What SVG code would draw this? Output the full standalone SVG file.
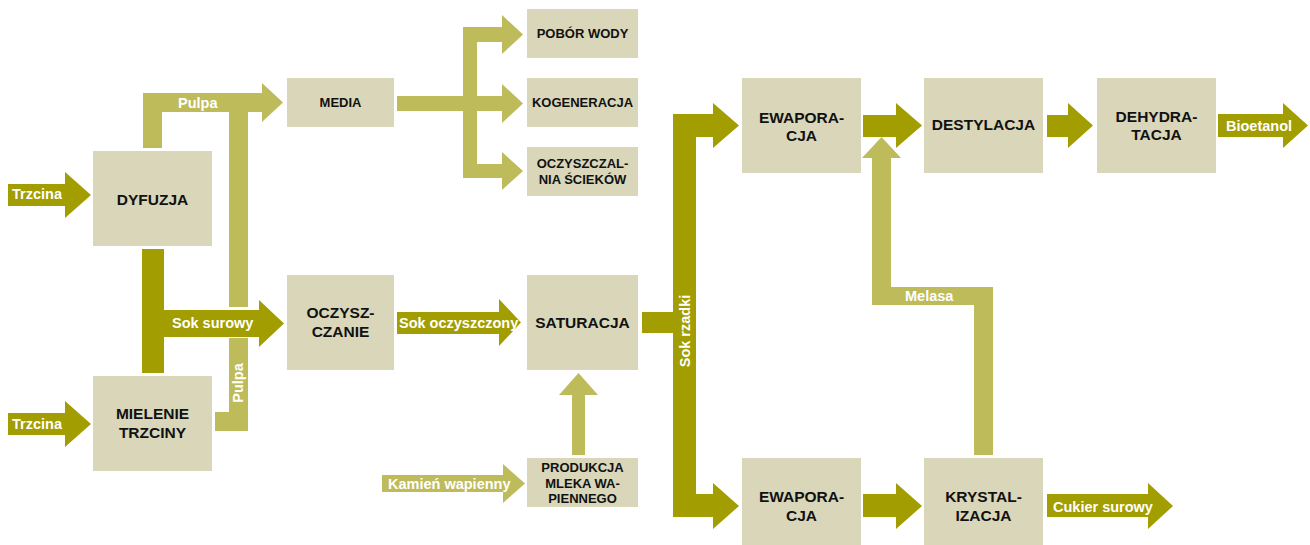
<svg xmlns="http://www.w3.org/2000/svg" width="1310" height="545" viewBox="0 0 1310 545">
<style>
.box{fill:#d9d6b9}
.dk{fill:#a29d00}
.lt{fill:#bebb5a}
.t{font-family:"Liberation Sans",Arial,sans-serif;font-weight:bold;fill:#111;text-anchor:middle}
.b{font-size:15.5px}
.s{font-size:13px}
.l{font-family:"Liberation Sans",Arial,sans-serif;font-weight:bold;font-size:14.5px;fill:#fff}
</style>
<rect width="1310" height="545" fill="#fff"/>
<g id="connectors">
<!-- light -->
<polygon class="lt" points="143,148 143,93 262,93 262,83 283,102.5 262,122 262,112 162,112 162,148"/>
<rect class="lt" x="229" y="112" width="19" height="195"/>
<rect class="lt" x="229" y="338" width="19" height="93"/>
<rect class="lt" x="215" y="412" width="33" height="19"/>
<rect class="lt" x="397" y="96" width="66" height="15"/>
<rect class="lt" x="463" y="27" width="14" height="151"/>
<polygon class="lt" points="477,27 502,27 502,15 523,34.5 502,54 502,42 477,42"/>
<polygon class="lt" points="477,96 502,96 502,84 523,103.5 502,123 502,111 477,111"/>
<polygon class="lt" points="477,164 502,164 502,152 523,171 502,190 502,178 477,178"/>
<polygon class="lt" points="572,455 572,395 559,395 578.5,373 598,395 585,395 585,455"/>
<polygon class="lt" points="382,475 503,475 503,464 525,483.5 503,503 503,492 382,492"/>
<polygon class="lt" points="881.5,137 901,158 891,158 891,287 993,287 993,455 974,455 974,305 872,305 872,158 862,158"/>
<!-- dark -->
<polygon class="dk" points="8,184 65,184 65,172 91,195 65,218 65,206 8,206"/>
<polygon class="dk" points="8,413 65,413 65,401 91,424 65,447 65,435 8,435"/>
<polygon class="dk" points="142,249 164,249 164,310 259,310 259,300 284,323.5 259,347 259,337 164,337 164,373 142,373"/>
<polygon class="dk" points="397,312 499,312 499,299 521,322.5 499,346 499,334 397,334"/>
<rect class="dk" x="642" y="312" width="31" height="21"/>
<polygon class="dk" points="673,114 713,114 713,103 739,125.5 713,148 713,137 696,137 696,494 713,494 713,483 739,506 713,529 713,517 673,517"/>
<polygon class="dk" points="863,115 896,115 896,103 922,125.5 896,148 896,137 863,137"/>
<polygon class="dk" points="863,494 896,494 896,483 922,506 896,529 896,517 863,517"/>
<polygon class="dk" points="1047,115 1068,115 1068,103 1093,125.5 1068,148 1068,137 1047,137"/>
<polygon class="dk" points="1218,114 1283,114 1283,103 1308,125.5 1283,148 1283,137 1218,137"/>
<polygon class="dk" points="1047,494 1148,494 1148,483 1173,506 1148,529 1148,517 1047,517"/>
<!-- labels -->
<text class="l" x="12" y="199">Trzcina</text>
<text class="l" x="12" y="429">Trzcina</text>
<text class="l" x="178" y="108">Pulpa</text>
<text class="l" x="172" y="328">Sok surowy</text>
<text class="l" transform="translate(243,383) rotate(-90)" text-anchor="middle">Pulpa</text>
<text class="l" x="399" y="328">Sok oczyszczony</text>
<text class="l" x="388" y="489">Kamień wapienny</text>
<text class="l" transform="translate(690,331) rotate(-90)" text-anchor="middle">Sok rzadki</text>
<text class="l" x="905" y="301">Melasa</text>
<text class="l" x="1226" y="131">Bioetanol</text>
<text class="l" x="1053" y="512">Cukier surowy</text>
</g>
<g id="dyfuzja"><rect class="box" x="93" y="151" width="119" height="95"/><text class="t b" x="152.5" y="205">DYFUZJA</text></g>
<g id="mielenie"><rect class="box" x="93" y="376" width="119" height="95"/><text class="t b" x="152.5" y="419">MIELENIE</text><text class="t b" x="152.5" y="438">TRZCINY</text></g>
<g id="media"><rect class="box" x="287" y="78" width="107" height="49"/><text class="t s" x="340.5" y="107">MEDIA</text></g>
<g id="pobor"><rect class="box" x="527" y="9" width="111" height="49"/><text class="t s" x="582.5" y="38">POBÓR WODY</text></g>
<g id="kogeneracja"><rect class="box" x="527" y="78" width="111" height="49"/><text class="t s" x="582.5" y="107">KOGENERACJA</text></g>
<g id="oczyszczalnia"><rect class="box" x="527" y="147" width="111" height="49"/><text class="t s" x="582.5" y="168">OCZYSZCZAL-</text><text class="t s" x="582.5" y="184">NIA ŚCIEKÓW</text></g>
<g id="oczyszczanie"><rect class="box" x="287" y="275" width="107" height="95"/><text class="t b" x="340.5" y="318">OCZYSZ-</text><text class="t b" x="340.5" y="337">CZANIE</text></g>
<g id="saturacja"><rect class="box" x="527" y="275" width="111" height="95"/><text class="t b" x="582.5" y="328">SATURACJA</text></g>
<g id="produkcja"><rect class="box" x="527" y="458" width="111" height="49"/><text class="t s" x="582.5" y="472">PRODUKCJA</text><text class="t s" x="582.5" y="488">MLEKA WA-</text><text class="t s" x="582.5" y="503">PIENNEGO</text></g>
<g id="ewaporacja1"><rect class="box" x="742" y="78" width="119" height="95"/><text class="t b" x="801.5" y="123">EWAPORA-</text><text class="t b" x="801.5" y="141">CJA</text></g>
<g id="ewaporacja2"><rect class="box" x="742" y="458" width="119" height="95"/><text class="t b" x="801.5" y="502">EWAPORA-</text><text class="t b" x="801.5" y="521">CJA</text></g>
<g id="destylacja"><rect class="box" x="924" y="78" width="119" height="95"/><text class="t b" x="983.5" y="130">DESTYLACJA</text></g>
<g id="dehydratacja"><rect class="box" x="1097" y="78" width="119" height="95"/><text class="t b" x="1156.5" y="122">DEHYDRA-</text><text class="t b" x="1156.5" y="140">TACJA</text></g>
<g id="krystalizacja"><rect class="box" x="924" y="458" width="119" height="95"/><text class="t b" x="983.5" y="502">KRYSTAL-</text><text class="t b" x="983.5" y="521">IZACJA</text></g>
</svg>
